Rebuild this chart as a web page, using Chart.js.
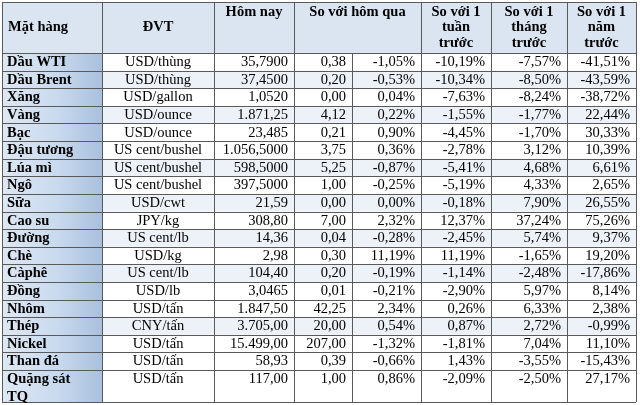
<!DOCTYPE html>
<html><head><meta charset="utf-8">
<script src="https://cdn.jsdelivr.net/npm/chart.js@4"></script>
<style>html,body{margin:0;padding:0;background:#fff}canvas{display:block}</style>
</head><body>
<canvas id="c" width="640" height="405"></canvas>
<script>
// ---- data ----
const items = ["Dầu WTI","Dầu Brent","Xăng","Vàng","Bạc","Đậu tương","Lúa mì","Ngô","Sữa","Cao su","Đường","Chè","Càphê","Đồng","Nhôm","Thép","Nickel","Than đá","Quặng sát\nTQ"];
const units = ["USD/thùng","USD/thùng","USD/gallon","USD/ounce","USD/ounce","US cent/bushel","US cent/bushel","US cent/bushel","USD/cwt","JPY/kg","US cent/lb","USD/kg","US cent/lb","USD/lb","USD/tấn","CNY/tấn","USD/tấn","USD/tấn","USD/tấn"];
const today = ["35,7900","37,4500","1,0520","1.871,25","23,485","1.056,5000","598,5000","397,5000","21,59","308,80","14,36","2,98","104,40","3,0465","1.847,50","3.705,00","15.499,00","58,93","117,00"];
const dayChange = [0.38,0.20,0.00,4.12,0.21,3.75,5.25,1.00,0.00,7.00,0.04,0.30,0.20,0.01,42.25,20.00,207.00,0.39,1.00];
const dayPct = [-1.05,-0.53,0.04,0.22,0.90,0.36,-0.87,-0.25,0.00,2.32,-0.28,11.19,-0.19,-0.21,2.34,0.54,-1.32,-0.66,0.86];
const weekPct = [-10.19,-10.34,-7.63,-1.55,-4.45,-2.78,-5.41,-5.19,-0.18,12.37,-2.45,11.19,-1.14,-2.90,0.26,0.87,-1.81,1.43,-2.09];
const monthPct = [-7.57,-8.50,-8.24,-1.77,-1.70,3.12,4.68,4.33,7.90,37.24,5.74,-1.65,-2.48,5.97,6.33,2.72,7.04,-3.55,-2.50];
const yearPct = [-41.51,-43.59,-38.72,22.44,30.33,10.39,6.61,2.65,26.55,75.26,9.37,19.20,-17.86,8.14,2.38,-0.99,11.10,-15.43,27.17];
const headers = ["Mặt hàng","ĐVT","Hôm nay","So với hôm qua","So với 1\ntuần\ntrước","So với 1\ntháng\ntrước","So với 1\nnăm\ntrước"];
const shadedRows = [1,3,6,8,10,12,15];

// ---- layout (x-units / row-units) ----
const colEdges = [0,100,212,292,350,419,489,565,634];
const headerUnits = 2.9;
const lastRowUnits = 1.82;
const totalUnits = headerUnits + (items.length - 1) + lastRowUnits;

const fmt = (v, pct) => v.toFixed(2).replace('.', ',') + (pct ? '%' : '');
const FONT = '"Liberation Serif", "Times New Roman", serif';
const FS = 14.5;

const tablePlugin = {
  id: 'table',
  beforeDatasetsDraw(chart) {
    const ctx = chart.ctx, xs = chart.scales.x, ys = chart.scales.y;
    const X = v => xs.getPixelForValue(v), Y = v => ys.getPixelForValue(v);
    const rowTop = i => headerUnits + i;
    const rowBot = i => i === items.length - 1 ? totalUnits : headerUnits + i + 1;
    ctx.save();
    // header background
    ctx.fillStyle = '#dbe5f1';
    ctx.fillRect(X(0), Y(0), X(colEdges[8]) - X(0), Y(headerUnits) - Y(0));
    // first column gradient
    const g = ctx.createLinearGradient(X(0), 0, X(colEdges[1]), 0);
    g.addColorStop(0, '#dfe8f3'); g.addColorStop(0.55, '#c9daee'); g.addColorStop(1, '#a9c0dd');
    ctx.fillStyle = g;
    ctx.fillRect(X(0), Y(headerUnits), X(colEdges[1]) - X(0), Y(totalUnits) - Y(headerUnits));
    // shaded rows
    ctx.fillStyle = '#edf2f9';
    shadedRows.forEach(i => {
      ctx.fillRect(X(colEdges[1]), Y(rowTop(i)), X(colEdges[8]) - X(colEdges[1]), Y(rowBot(i)) - Y(rowTop(i)));
    });
    // grid lines
    ctx.strokeStyle = '#5a5a5a'; ctx.lineWidth = 1;
    const h = (y, x0, x1) => { const yy = Math.round(Y(y)) + 0.5; ctx.beginPath(); ctx.moveTo(X(x0), yy); ctx.lineTo(X(x1), yy); ctx.stroke(); };
    const v = (x, y0, y1) => { const xx = Math.round(X(x)) + 0.5; ctx.beginPath(); ctx.moveTo(xx, Y(y0)); ctx.lineTo(xx, Y(y1)); ctx.stroke(); };
    h(0, 0, colEdges[8]);
    h(headerUnits, 0, colEdges[8]);
    for (let i = 0; i < items.length; i++) h(rowBot(i), 0, colEdges[8]);
    colEdges.forEach((e, k) => {
      if (k === 4) v(e, headerUnits, totalUnits); else v(e, 0, totalUnits);
    });
    // text
    ctx.fillStyle = '#000';
    ctx.textBaseline = 'middle';
    // header
    ctx.font = 'bold ' + FS + 'px ' + FONT;
    const lh = 15.5;
    const hdrCols = [[0,1],[1,2],[2,3],[3,5],[5,6],[6,7],[7,8]];
    headers.forEach((t, k) => {
      const [a, b] = hdrCols[k];
      const lines = t.split('\n');
      const cx = (X(colEdges[a]) + X(colEdges[b])) / 2;
      if (k === 0) {
        ctx.textAlign = 'left';
        ctx.fillText(t, X(colEdges[0]) + 6, Y(headerUnits / 2));
      } else if (k === 1) {
        ctx.textAlign = 'center';
        ctx.fillText(t, cx, Y(headerUnits / 2));
      } else {
        ctx.textAlign = 'center';
        lines.forEach((ln, j) => ctx.fillText(ln, cx, Y(0) + 10 + j * lh));
      }
    });
    // body
    const rowH = Y(1) - Y(0);
    for (let i = 0; i < items.length; i++) {
      const cy = Y(rowTop(i)) + rowH / 2 + 0.5;
      ctx.font = 'bold ' + FS + 'px ' + FONT;
      ctx.textAlign = 'left';
      items[i].split('\n').forEach((ln, j) => ctx.fillText(ln, X(colEdges[0]) + 5, cy + j * rowH));
      ctx.font = FS + 'px ' + FONT;
      ctx.textAlign = 'center';
      ctx.fillText(units[i], (X(colEdges[1]) + X(colEdges[2])) / 2, cy);
      ctx.textAlign = 'right';
      const vals = [today[i], fmt(dayChange[i], false), fmt(dayPct[i], true), fmt(weekPct[i], true), fmt(monthPct[i], true), fmt(yearPct[i], true)];
      vals.forEach((s, k) => ctx.fillText(s, X(colEdges[k + 3]) - 6, cy));
    }
    ctx.restore();
  }
};

new Chart(document.getElementById('c'), {
  type: 'scatter',
  data: { datasets: [{ data: items.map((_, i) => ({ x: colEdges[0], y: headerUnits + i })), pointRadius: 0 }] },
  options: {
    responsive: false, animation: false,
    layout: { padding: { left: 2, right: 4, top: 2, bottom: 3 } },
    plugins: { legend: { display: false }, tooltip: { enabled: false } },
    scales: {
      x: { type: 'linear', min: 0, max: colEdges[8], display: false },
      y: { type: 'linear', min: 0, max: totalUnits, reverse: true, display: false }
    }
  },
  plugins: [tablePlugin]
});
</script>
</body></html>
